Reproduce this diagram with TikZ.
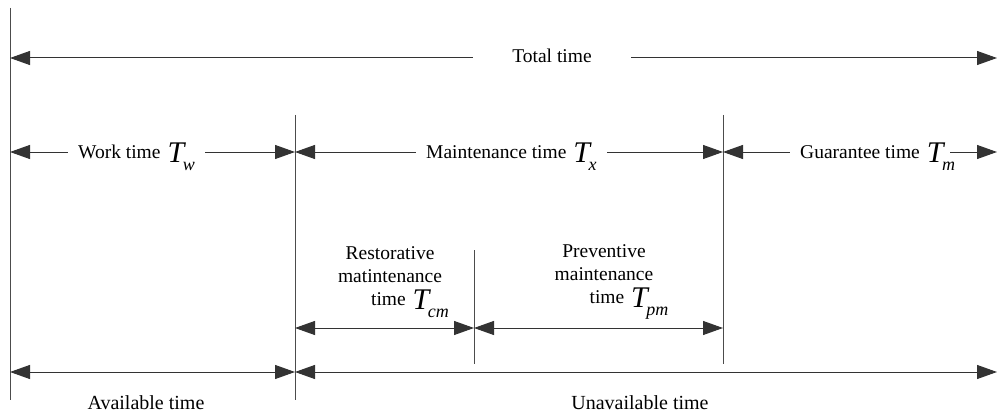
\documentclass[tikz,border=0pt]{standalone}
\usepackage{fontspec}
\setmainfont{Liberation Serif}
\usetikzlibrary{arrows.meta}
\newcommand\Tsb[1]{\hspace{7pt}\raisebox{-4.5pt}{\fontsize{30}{30}\selectfont\itshape T}\kern-1.5pt\raisebox{-12pt}{\fontsize{18}{18}\selectfont\itshape #1}}
\tikzset{
  vline/.style={draw=black!70, line width=1pt},
  span/.style={draw=black!80, line width=1pt, {Triangle[length=20pt,width=14pt]}-{Triangle[length=20pt,width=14pt]}},
  lbl/.style={font=\fontsize{19.5}{23}\selectfont, fill=white, inner ysep=1pt, inner xsep=10pt, anchor=base west},
  txt/.style={font=\fontsize{19.5}{23}\selectfont, inner sep=0pt, align=center, anchor=base},
}
\begin{document}
\begin{tikzpicture}[x=1pt,y=-1pt]
\useasboundingbox[fill=white] (0,0) rectangle (997,412);
% vertical lines
\coordinate (v0t) at (10,8);    \coordinate (v0b) at (10,400);
\coordinate (v1t) at (295,115); \coordinate (v1b) at (295,400);
\coordinate (v2t) at (474,250); \coordinate (v2b) at (474,364);
\coordinate (v3t) at (723,115); \coordinate (v3b) at (723,364);
\draw[vline] (v0t) -- (v0b);
\draw[vline] (v1t) -- (v1b);
\draw[vline] (v2t) -- (v2b);
\draw[vline] (v3t) -- (v3b);
% row end points
\coordinate (r1a) at (10,58);   \coordinate (r1b) at (997,58);
\coordinate (r2a) at (10,152);  \coordinate (r2b) at (295,152);
\coordinate (r2c) at (723,152); \coordinate (r2d) at (997,152);
\coordinate (r3a) at (295,328); \coordinate (r3b) at (474,328); \coordinate (r3c) at (723,328);
\coordinate (r4a) at (10,372);  \coordinate (r4b) at (295,372); \coordinate (r4c) at (997,372);
% arrows
\draw[span] (r1a) -- (r1b);
\draw[span] (r2a) -- (r2b);
\draw[span] (r2b) -- (r2c);
\draw[span] (r2c) -- (r2d);
\draw[span] (r3a) -- (r3b);
\draw[span] (r3b) -- (r3c);
\draw[span] (r4a) -- (r4b);
\draw[span] (r4b) -- (r4c);
% labels
\node[lbl, anchor=base, inner xsep=39pt] (total) at (552,63) {Total time};
\node[lbl] (work) at (68,158) {Work time\Tsb{w}};
\node[lbl] (maint) at (416,158) {Maintenance time\Tsb{x}};
\node[lbl] (guar) at (790,158) {Guarantee time\rlap{\Tsb{m}}\rule{20pt}{0pt}};
\node[txt] (rest) at (390,305) {Restorative\\matintenance\\\hspace*{40pt}time\Tsb{cm}};
\node[txt] (prev) at (604,303) {Preventive\\maintenance\\\hspace*{50pt}time\Tsb{pm}};
\node[txt, font=\fontsize{20}{23}\selectfont] (avail) at (146,409) {Available time};
\node[txt, font=\fontsize{20}{23}\selectfont] (unavail) at (640,409) {Unavailable time};
\end{tikzpicture}
\end{document}
